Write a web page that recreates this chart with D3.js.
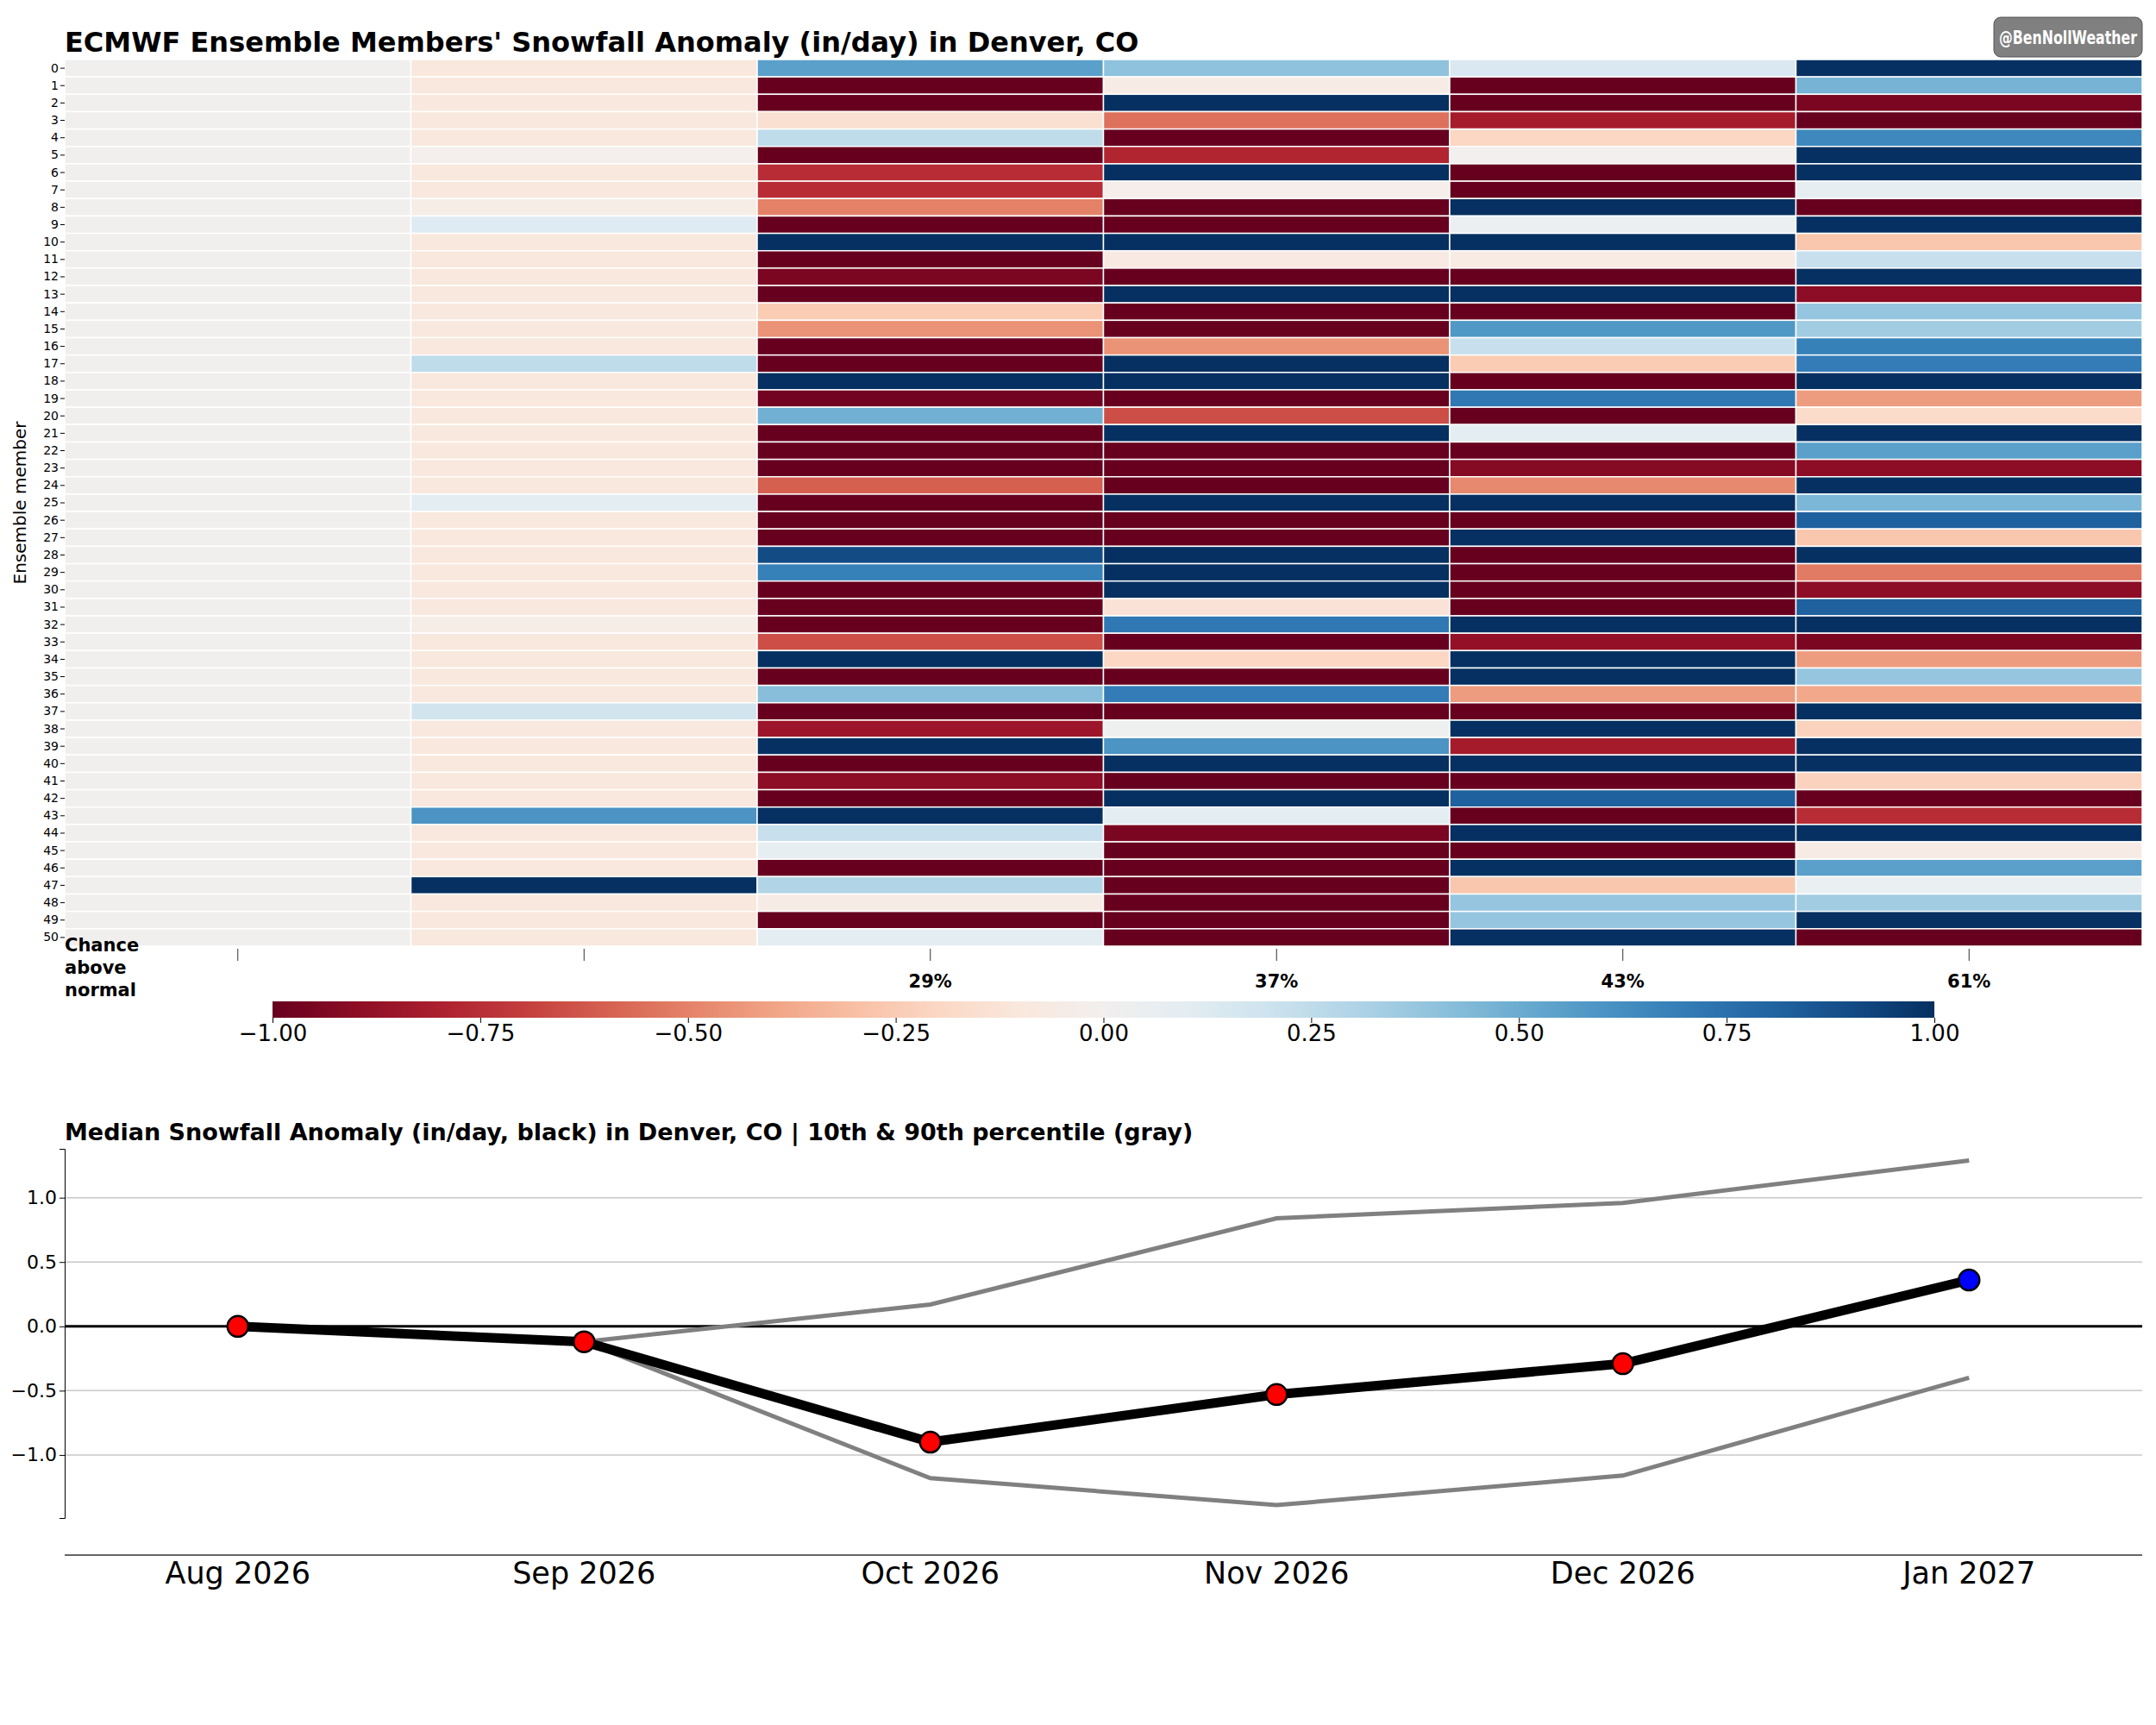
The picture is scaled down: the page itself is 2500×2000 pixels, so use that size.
<!DOCTYPE html>
<html><head><meta charset="utf-8">
<script src="https://cdn.jsdelivr.net/npm/d3@7"></script>
<style>body{margin:0;background:#fff;font-family:"DejaVu Sans",sans-serif;}</style>
</head><body>
<svg id="chart" width="2500" height="2000"></svg>
<script>
const months = ["Aug 2026","Sep 2026","Oct 2026","Nov 2026","Dec 2026","Jan 2027"];
const members = d3.range(51);
const chanceAbove = [null, null, "29%", "37%", "43%", "61%"];

// anomaly per member (rows) for each month
const aug = members.map(() => 0.005);
const sep = [-0.1,-0.1,-0.1,-0.1,-0.1,-0.02,-0.1,-0.1,-0.05,0.12,-0.1,-0.1,-0.1,-0.1,-0.1,-0.1,-0.1,0.25,-0.1,-0.1,
  -0.1,-0.1,-0.1,-0.1,-0.1,0.1,-0.1,-0.1,-0.1,-0.1,-0.1,-0.1,-0.05,-0.1,-0.1,-0.1,-0.1,0.18,-0.1,-0.1,
  -0.1,-0.1,-0.1,0.6,-0.1,-0.1,-0.1,1,-0.1,-0.1,-0.1];
const oct = [0.55,-1,-1,-0.15,0.25,-1,-0.75,-0.75,-0.5,-1,1,-1,-0.95,-1,-0.25,-0.45,-1,-1,1,-0.97,
  0.48,-1,-1,-1,-0.6,-1,-1,-1,0.9,0.68,-1,-1,-1,-0.65,1,-1,0.42,-1,-0.85,1,
  -1,-0.9,-1,1,0.22,0.08,-1,0.3,-0.06,-1,0.1];
const nov = [0.4,-0.06,1,-0.55,-1,-0.78,1,-0.03,-1,-1,1,-0.08,-1,1,-1,-1,-0.45,1,1,-1,
  -0.65,1,-1,-1,-1,1,-1,-1,1,1,1,-0.13,0.72,-1,-0.2,-1,0.7,-1,0.03,0.6,
  1,-1,1,0.1,-0.95,-1,-1,-1,-1,-1,-1];
const dec = [0.15,-1,-1,-0.82,-0.2,0,-1,-1,1,0.05,1,-0.07,-1,1,-1,0.58,0.22,-0.25,-1,0.72,
  -1,0.1,-1,-0.92,-0.48,1,-1,1,-1,-1,-1,-1,1,-0.88,1,1,-0.42,-1,1,-0.82,
  1,-1,0.82,-1,1,-1,1,-0.27,0.38,0.38,1];
const jan = [1,0.47,-0.95,-1,0.65,1,1,0.08,-1,1,-0.27,0.22,1,-0.9,0.38,0.35,0.68,0.7,1,-0.42,
  -0.18,1,0.55,-0.9,1,0.45,0.82,-0.27,1,-0.52,-0.9,0.82,1,-0.95,-0.42,0.38,-0.38,1,-0.22,1,
  1,-0.22,-1,-0.75,1,-0.06,0.55,0.06,0.35,1,-1];
const series = [aug, sep, oct, nov, dec, jan];

const median = [0, -0.12, -0.9, -0.53, -0.29, 0.36];
const p90 = [null, -0.12, 0.17, 0.84, 0.96, 1.29];
const p10 = [null, -0.12, -1.18, -1.39, -1.16, -0.4];

const svg = d3.select("#chart");
const color = d3.scaleDiverging(t => d3.interpolateRdBu(t)).domain([-1, 0, 1]).clamp(true);

// ---------- heatmap ----------
const hx = d3.scaleBand().domain(months).range([75, 2484]);
const hy = d3.scaleBand().domain(members).range([69, 1097]);

svg.append("text").attr("x", 75).attr("y", 60).attr("font-size", 32).attr("font-weight", "bold")
  .text("ECMWF Ensemble Members' Snowfall Anomaly (in/day) in Denver, CO");

const wm = svg.append("g").attr("transform", "translate(2312,20)");
wm.append("rect").attr("width", 172).attr("height", 46).attr("rx", 8).attr("fill", "#808080").attr("stroke", "#555");
wm.append("text").attr("x", 86).attr("y", 31).attr("text-anchor", "middle").attr("fill", "#fff")
  .attr("font-size", 22).attr("font-weight", "bold")
  .attr("textLength", 160).attr("lengthAdjust", "spacingAndGlyphs").text("@BenNollWeather");

months.forEach((m, i) => {
  svg.append("g").selectAll("rect").data(series[i]).join("rect")
    .attr("x", hx(m)).attr("y", (d, j) => hy(j))
    .attr("width", hx.bandwidth()).attr("height", hy.bandwidth())
    .attr("fill", d => color(d)).attr("stroke", "#fff").attr("stroke-width", 1.5);
});

const yAx = svg.append("g").attr("transform", "translate(75,0)")
  .call(d3.axisLeft(hy).tickSize(5).tickPadding(2));
yAx.select(".domain").remove();
yAx.selectAll("text").attr("font-size", 14).attr("font-family", "DejaVu Sans");

svg.append("text").attr("transform", "translate(30,583) rotate(-90)").attr("text-anchor", "middle")
  .attr("font-size", 20).text("Ensemble member");

const xAx = svg.append("g").attr("transform", "translate(0,1100)")
  .call(d3.axisBottom(hx).tickSize(14).tickFormat(""));
xAx.select(".domain").remove();
xAx.selectAll("line").attr("stroke", "#333");

svg.append("text").attr("font-size", 21).attr("font-weight", "bold").selectAll("tspan")
  .data(["Chance", "above", "normal"]).join("tspan")
  .attr("x", 75).attr("y", (d, i) => 1103 + i * 26).text(d => d);

svg.append("g").selectAll("text").data(months.filter((m, i) => chanceAbove[i])).join("text")
  .attr("x", m => hx(m) + hx.bandwidth() / 2).attr("y", 1145).attr("text-anchor", "middle")
  .attr("font-size", 21).attr("font-weight", "bold")
  .text(m => chanceAbove[months.indexOf(m)]);

// colorbar
const cb = d3.scaleLinear().domain([-1, 1]).range([316, 2243]);
const defs = svg.append("defs");
const grad = defs.append("linearGradient").attr("id", "cbg");
d3.range(0, 1.0001, 0.05).forEach(t => grad.append("stop").attr("offset", t).attr("stop-color", d3.interpolateRdBu(t)));
svg.append("rect").attr("x", 316).attr("y", 1161).attr("width", 2243 - 316).attr("height", 19).attr("fill", "url(#cbg)");
const cbAx = svg.append("g").attr("transform", "translate(0,1180)")
  .call(d3.axisBottom(cb).tickValues(d3.range(-1, 1.01, 0.25)).tickSize(6)
    .tickFormat(d => d3.format(".2f")(d).replace("-", "\u2212")));
cbAx.select(".domain").remove();
cbAx.selectAll("text").attr("font-size", 26).attr("font-family", "DejaVu Sans");

// ---------- median line chart ----------
svg.append("text").attr("x", 75).attr("y", 1322).attr("font-size", 27).attr("font-weight", "bold")
  .text("Median Snowfall Anomaly (in/day, black) in Denver, CO | 10th & 90th percentile (gray)");

const lx = d3.scalePoint().domain(months).range([hx(months[0]) + hx.bandwidth() / 2, hx(months[5]) + hx.bandwidth() / 2]);
const ly = d3.scaleLinear().domain([-1.49, 1.38]).range([1760, 1332]);

svg.append("g").selectAll("line").data([-1, -0.5, 0.5, 1]).join("line")
  .attr("x1", 75).attr("x2", 2484).attr("y1", d => ly(d)).attr("y2", d => ly(d))
  .attr("stroke", "#c8c8c8").attr("stroke-width", 1.5);
svg.append("line").attr("x1", 75).attr("x2", 2484).attr("y1", ly(0)).attr("y2", ly(0))
  .attr("stroke", "#000").attr("stroke-width", 3);

const lyAx = svg.append("g").attr("transform", "translate(75,0)")
  .call(d3.axisLeft(ly).tickValues([-1, -0.5, 0, 0.5, 1]).tickSize(6)
    .tickFormat(d => d3.format(".1f")(d).replace("-", "\u2212")));
lyAx.selectAll("text").attr("font-size", 22).attr("font-family", "DejaVu Sans");

svg.append("line").attr("x1", 75).attr("x2", 2484).attr("y1", 1803).attr("y2", 1803).attr("stroke", "#333").attr("stroke-width", 1.5);
svg.append("g").selectAll("text").data(months).join("text")
  .attr("x", m => lx(m)).attr("y", 1836).attr("text-anchor", "middle").attr("font-size", 35).text(m => m);

const line = d3.line().defined(d => d.v != null).x(d => lx(d.m)).y(d => ly(d.v));
[p90, p10].forEach(s => {
  svg.append("path").datum(months.map((m, i) => ({m, v: s[i]})))
    .attr("d", line).attr("fill", "none").attr("stroke", "#808080").attr("stroke-width", 5);
});
svg.append("path").datum(months.map((m, i) => ({m, v: median[i]})))
  .attr("d", line).attr("fill", "none").attr("stroke", "#000").attr("stroke-width", 11);
svg.append("g").selectAll("circle").data(months.map((m, i) => ({m, v: median[i]}))).join("circle")
  .attr("cx", d => lx(d.m)).attr("cy", d => ly(d.v)).attr("r", 12)
  .attr("fill", d => d.v > 0 ? "#0000ff" : "#ff0000").attr("stroke", "#000").attr("stroke-width", 2.5);
</script>
</body></html>
